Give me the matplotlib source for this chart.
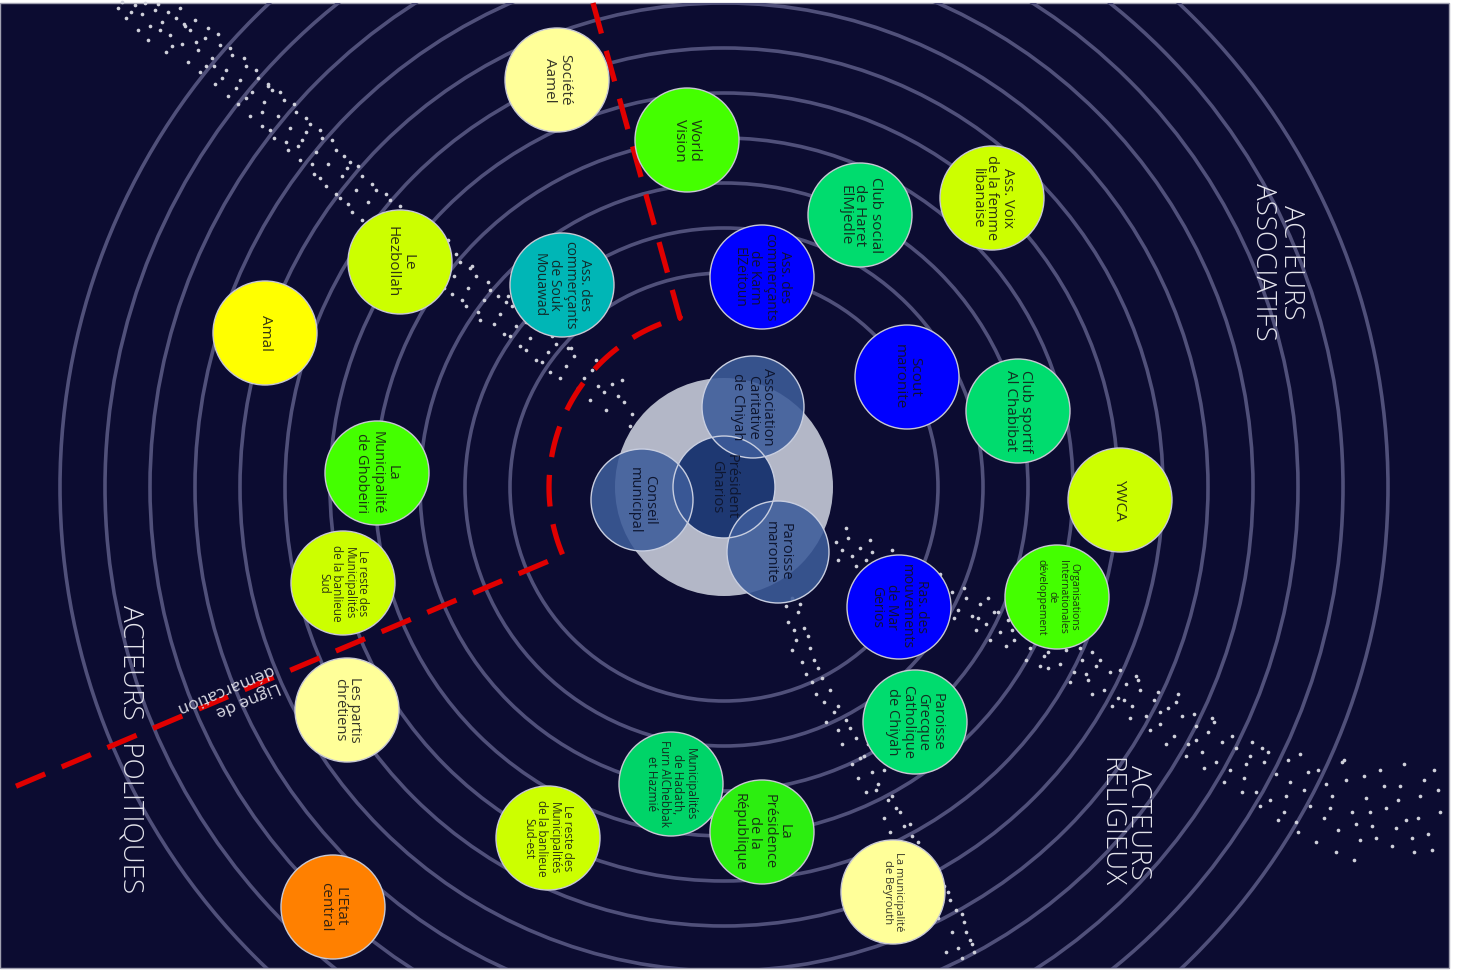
import numpy as np
import matplotlib.pyplot as plt
from matplotlib.patches import Circle, Rectangle

plt.rcParams['font.family'] = ['Open Sans', 'DejaVu Sans']

# --- data (pixel-space coordinates of the original diagram) ---
center = (724, 487)
ring_radii = [214, 259, 304, 349, 394, 439, 484, 529, 574, 619, 664]

actor_labels = [
    "Société\nAamel", "World\nVision", "Club social\nde Haret\nElMjedle",
    "Ass. Voix\nde la femme\nlibanaise", "Ass. des\ncommerçants\nde Karm\nElZeitoun",
    "Ass. des\ncommerçants\nde Souk\nMouawad", "Le\nHezbollah", "Amal",
    "Scout\nmaronite", "Club sportif\nAl Chabibat", "YWCA",
    "Organisations\nInternationales\nde\ndéveloppement",
    "Ras. des\nmouvements\nde Mar\nGerios", "Paroisse\nGrecque\nCatholique\nde Chiyah",
    "La\nMunicipalité\nde Ghobeiri", "Le reste des\nMunicipalités\nde la banlieue\nSud",
    "Les partis\nchrétiens", "L'Etat\ncentral",
    "Municipalités\nde Hadath,\nFurn AlChebbak\net Hazmié",
    "La\nPrésidence\nde la\nRépublique",
    "Le reste des\nMunicipalités\nde la banlieue\nSud-est",
    "La municipalité\nde Beyrouth",
]
actor_x = [557, 687, 860, 992, 762, 562, 400, 265, 907, 1018, 1120, 1057,
           899, 915, 377, 343, 347, 333, 671, 762, 548, 893]
actor_y = [80, 140, 215, 198, 277, 285, 262, 333, 377, 411, 500, 597,
           607, 722, 473, 583, 710, 907, 784, 832, 838, 892]
actor_colors = ['#ffff99', '#44ff00', '#00dc6e', '#ccff00', '#0000ff', '#00b6b6',
                '#ccff00', '#ffff00', '#0000ff', '#00dc6e', '#ccff00', '#44ff00',
                '#0000ff', '#00dc6e', '#44ff00', '#ccff00', '#ffff99', '#ff8000',
                '#00d468', '#2cee10', '#ccff00', '#ffff99']
actor_fontsize = [11, 11, 11, 10.5, 10, 10, 11, 11, 11, 11, 11, 7.5,
                  10, 10.5, 10.5, 8.5, 10.5, 11, 8.5, 10.5, 8.5, 8]

core_labels = ["Président\nGharios", "Association\nCaritative\nde Chiyah",
               "Conseil\nmunicipal", "Paroisse\nmaronite"]
core_x = [724, 753, 642, 778]
core_y = [487, 407, 500, 552]
core_colors = ['#1e3872', '#3d5c9a', '#3d5c9a', '#3d5c9a']

sector_labels = ["ACTEURS\nASSOCIATIFS", "ACTEURS\nRELIGIEUX", "ACTEURS   POLITIQUES"]
sector_x = [1277, 1124, 130]
sector_y = [262, 822, 749]

# demarcation line: straight part, arc around the core, straight part
line_top = [(593, 3), (680, 318)]
arc_radius = 175
arc_angles = (104.5, 203)
line_bottom = [(563, 555), (0, 793)]

# scattered dots
dots_upper_x = [118, 126, 135, 142, 150, 138, 155, 162, 170, 148, 176, 182, 190, 166, 198, 205,
                188, 212, 220, 200, 226, 232, 215, 240, 246, 228, 252, 258, 238, 264, 272, 250,
                278, 284, 262, 290, 296, 274, 302, 310, 288, 316, 322, 300, 328, 336, 314, 342,
                350, 326, 356, 362, 340, 368, 376, 352, 382, 390, 366, 396, 404, 380, 410, 418,
                394, 424, 432, 410, 440, 446, 428, 454, 460, 444, 468, 476, 462, 484, 490, 478,
                500, 506, 494, 516, 522, 510, 530, 540, 526, 548, 556, 542, 566, 574, 560, 584,
                592, 604, 612, 624, 632, 638, 184, 214, 268, 306, 347, 421, 470, 508, 571, 598,
                122, 131, 145, 158, 168, 180, 195, 208, 185, 160, 172, 196, 218, 230, 206, 222,
                244, 236, 256, 268, 246, 262, 280, 294, 270, 286, 306, 320, 298, 312, 332, 344,
                320, 336, 358, 372, 348, 362, 386, 400, 374, 392, 414, 428, 404, 448, 436, 456,
                472, 452, 466, 488, 498, 480, 512, 526, 504, 520, 536, 552, 568, 550, 578, 596,
                590, 618, 606, 630, 622, 634]
dots_upper_y = [8, 18, 5, 14, 26, 30, 10, 22, 35, 40, 18, 44, 30, 52, 50, 38,
                62, 58, 45, 72, 70, 55, 84, 80, 66, 96, 92, 78, 104, 102, 90, 116,
                116, 100, 126, 128, 112, 138, 140, 124, 150, 152, 138, 160, 164, 150, 174, 176,
                162, 186, 190, 176, 198, 202, 190, 212, 214, 200, 224, 228, 214, 236, 240, 226,
                250, 252, 240, 262, 262, 250, 274, 276, 262, 288, 288, 276, 300, 300, 290, 312,
                314, 302, 324, 326, 316, 336, 338, 330, 350, 352, 344, 362, 366, 356, 378, 378,
                370, 392, 384, 402, 414, 428, 24, 66, 86, 132, 168, 218, 268, 296, 348, 386,
                2, 12, 3, 4, 12, 8, 20, 28, 26, 30, 46, 42, 34, 48, 66, 78,
                58, 88, 70, 84, 98, 112, 92, 104, 130, 142, 118, 130, 146, 164, 140, 156,
                178, 194, 166, 184, 204, 220, 194, 206, 230, 244, 216, 230, 256, 240, 268, 254,
                266, 294, 306, 282, 296, 320, 306, 322, 334, 346, 360, 336, 348, 372, 388, 360,
                400, 396, 410, 426, 380, 440]

dots_lower_x = [836, 842, 848, 852, 860, 866, 872, 880, 888, 894, 900, 908, 914, 922, 928, 936,
                944, 952, 958, 966, 972, 980, 986, 994, 1000, 1008, 1014, 1022, 1030, 1036, 1044,
                1052, 1060, 1066, 1074, 1082, 1088, 1096, 1104, 1110, 1118, 1126, 1132, 1140,
                1146, 1154, 1160, 1168, 1174, 1182, 1188, 1196, 1202, 1208, 1216, 1222, 1230,
                1236, 1244, 1250, 1256, 1264, 1270, 1276, 1284, 1290, 1296, 1304, 1310, 1318,
                1324, 1332, 1338, 1346, 1352, 1360, 1366, 1372, 1380, 1386, 1392, 1400, 1406,
                1414, 1420, 1428, 1434, 1440, 1092, 1136, 1178, 1212, 1262, 1300, 1344, 1398, 1040, 990,
                838, 846, 856, 870, 884, 892, 904, 918, 932, 940, 954, 964, 976, 988, 998, 1006,
                1018, 1026, 1040, 1048, 1058, 1070, 1080, 1092, 1100, 1112, 1120, 1130, 1138,
                1150, 1158, 1166, 1176, 1186, 1194, 1204, 1214, 1224, 1232, 1242, 1252, 1260,
                1268, 1278, 1288, 1298, 1308, 1316, 1326, 1336, 1342, 1356, 1364, 1376, 1384,
                1396, 1404, 1412, 1424, 1432, 1438, 1354, 1418, 1370, 1330, 1286, 1246, 1196,
                1160, 1124, 1086, 1048, 1012, 978]
dots_lower_y = [542, 550, 538, 556, 548, 560, 552, 566, 558, 572, 582, 570, 588, 578, 596, 586,
                600, 592, 610, 598, 616, 604, 624, 612, 632, 620, 640, 628, 648, 636, 656,
                644, 664, 650, 672, 660, 680, 666, 690, 672, 698, 684, 706, 690,
                716, 700, 724, 708, 736, 716, 744, 726, 752, 732, 762, 742, 770,
                748, 778, 756, 792, 762, 800, 774, 812, 782, 822, 790, 806, 770,
                818, 796, 830, 780, 812, 840, 798, 826, 770, 808, 846, 786, 820,
                852, 796, 834, 770, 812, 652, 676, 694, 718, 748, 754, 760, 800, 666, 640,
                560, 528, 566, 540, 578, 550, 592, 566, 604, 574, 618, 588, 630, 598, 612, 646,
                618, 660, 632, 668, 640, 682, 648, 694, 660, 706, 670, 718, 680,
                730, 692, 744, 702, 756, 714, 768, 722, 782, 736, 792, 742, 806,
                752, 820, 760, 832, 772, 842, 784, 852, 762, 824, 776, 838, 786,
                828, 764, 838, 780, 850, 790, 860, 818, 812, 808, 796, 764, 740,
                712, 700, 674, 652, 630, 618]

dots_down_x = [792, 798, 788, 804, 796, 810, 802, 818, 812, 830, 824, 838, 846, 838, 856, 864,
               852, 872, 878, 866, 888, 896, 884, 904, 912, 902, 922, 930, 918, 940, 948, 942,
               956, 964, 952, 970, 974, 962,
               786, 800, 794, 808, 792, 814, 806, 822, 816, 834, 826, 842, 850, 860, 868, 858,
               876, 884, 892, 900, 890, 910, 918, 906, 926, 934, 944, 950, 938, 962, 966, 972,
               958, 946]
dots_down_y = [598, 612, 622, 628, 640, 648, 662, 668, 682, 690, 702, 706, 720, 730, 738, 756,
               764, 772, 784, 792, 800, 808, 818, 826, 836, 846, 852, 862, 872, 880, 892, 902,
               910, 922, 932, 940, 952, 958,
               606, 604, 630, 636, 650, 660, 674, 678, 694, 712, 722, 744, 728, 758, 744, 778,
               790, 770, 796, 812, 832, 824, 842, 862, 858, 872, 886, 900, 918, 914, 932, 944,
               948, 952]

# --- figure ---
fig = plt.figure(figsize=(14.64, 9.76), dpi=100, facecolor='white')
ax = fig.add_axes([0, 0, 1, 1])
ax.set_xlim(0, 1464)
ax.set_ylim(976, 0)
ax.axis('off')

bg = Rectangle((0, 3), 1449, 965, facecolor='#0c0c31', edgecolor='#a0a0b0',
               linewidth=1, zorder=0)
ax.add_patch(bg)

# concentric rings
for r in ring_radii:
    ring = Circle(center, r, fill=False, edgecolor='#50507a', linewidth=2.6, zorder=1)
    ax.add_patch(ring)
    ring.set_clip_path(bg)

# dots
for dx, dy in [(dots_upper_x, dots_upper_y), (dots_lower_x, dots_lower_y),
               (dots_down_x, dots_down_y)]:
    ax.scatter(dx, dy, s=7, color='#cfd0da', linewidths=0, zorder=2)

# demarcation line
theta = np.radians(np.linspace(arc_angles[0], arc_angles[1], 80))
arc_x = center[0] + arc_radius * np.cos(theta)
arc_y = center[1] - arc_radius * np.sin(theta)
path_x = [p[0] for p in line_top] + list(arc_x) + [p[0] for p in line_bottom]
path_y = [p[1] for p in line_top] + list(arc_y) + [p[1] for p in line_bottom]
ax.plot(path_x, path_y, color='#e00000', linewidth=3.8, dashes=(6, 3.4),
        solid_capstyle='butt', dash_capstyle='butt', zorder=3)
ax.text(228, 697, "Ligne de\ndémarcation", rotation=202.8, ha='center', va='center',
        multialignment='left', fontsize=12.5, color='#d8d8e2', zorder=3)

# outer actors
for lab, x, y, c, fs in zip(actor_labels, actor_x, actor_y, actor_colors, actor_fontsize):
    ax.add_patch(Circle((x, y), 52, facecolor=c, edgecolor='#c8c8d4', linewidth=1, zorder=4))
    ax.text(x, y, lab, rotation=-90, ha='center', va='center', multialignment='center',
            fontsize=fs, color='#141414', alpha=0.85, linespacing=1.0, zorder=5)

# core
ax.add_patch(Circle(center, 109, facecolor='#b3b7c7', edgecolor='none', zorder=4))
for i, (x, y, c) in enumerate(zip(core_x, core_y, core_colors)):
    ax.add_patch(Circle((x, y), 51, facecolor=c, edgecolor='none',
                        alpha=1.0 if i == 0 else 0.88, zorder=5))
for x, y in zip(core_x, core_y):
    ax.add_patch(Circle((x, y), 51, fill=False, edgecolor='#c8cee0', linewidth=1, zorder=6))
for lab, x, y in zip(core_labels, core_x, core_y):
    ax.text(x, y, lab, rotation=-90, ha='center', va='center', multialignment='center',
            fontsize=10.5, color='#0e1630', linespacing=1.0, zorder=7)

# sector labels
for lab, x, y in zip(sector_labels, sector_x, sector_y):
    ax.text(x, y, lab, rotation=-90, ha='center', va='center', multialignment='center',
            fontsize=20, color='#e4e4ec', fontweight='light', linespacing=1.0, zorder=7)

fig.savefig('out.png', dpi=100, facecolor='white')
